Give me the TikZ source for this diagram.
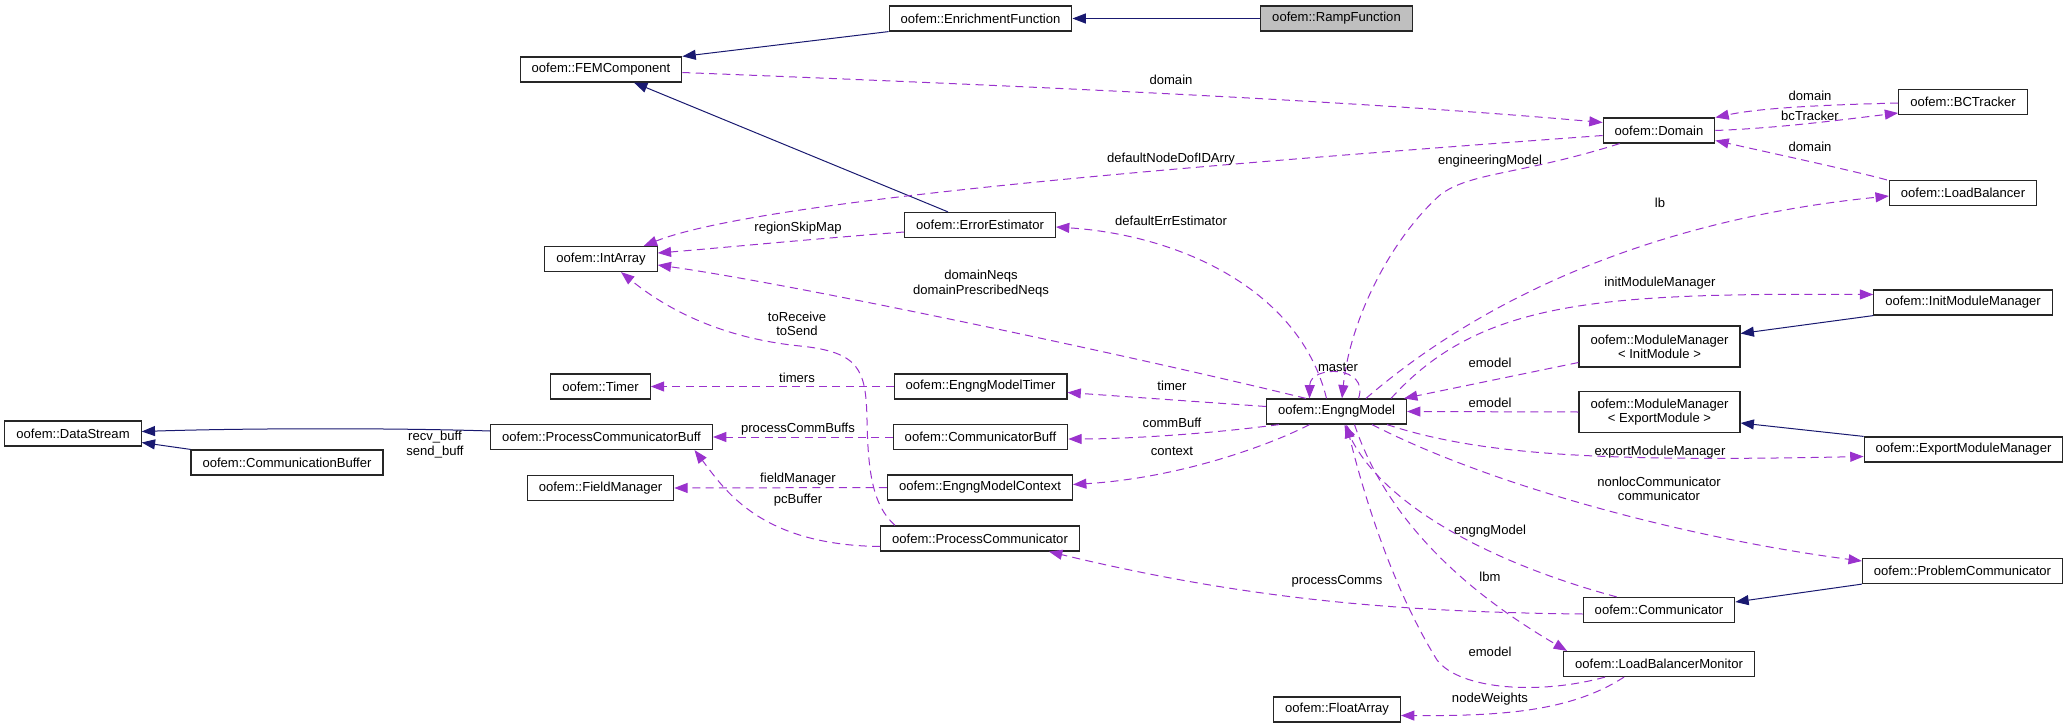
\documentclass[tikz,border=0pt]{standalone}
\usepackage{fontspec}
\setmainfont{Liberation Sans}
\usetikzlibrary{calc,arrows.meta}
\definecolor{darkorchid3}{HTML}{9A32CD}
\definecolor{midnightblue}{HTML}{191970}
\definecolor{grey75}{HTML}{BFBFBF}
\newcommand{\usecolor}{darkorchid3}
\newcommand{\inhcolor}{midnightblue}
\newcommand{\edgewidth}{0.75pt}
\newcommand{\boxfont}{\fontsize{9.8pt}{10.75pt}\selectfont}
\tikzset{
  cls/.style={draw=black!85, line width=0.9pt, fill=white, font=\boxfont, inner xsep=8.6pt, inner ysep=0pt, minimum height=18.75pt},
  two/.style={cls, align=center, minimum height=30.75pt},
  lbl/.style={font=\boxfont, inner sep=0pt, align=center},
  inh/.style={draw=\inhcolor, line width=\edgewidth, -{Triangle[length=10pt,width=7.5pt]}},
  usage/.style={draw=\usecolor, line width=\edgewidth, dash pattern=on 6pt off 4pt, -{Triangle[length=10pt,width=7.5pt]}}
}

\begin{document}
\begin{tikzpicture}[x=0.75pt,y=-0.75pt]
\useasboundingbox (0,0) rectangle (2068,728);
%classes
\node[cls] (1) at (1336.5,18.5) [fill=grey75] {oofem::RampFunction};
\node[cls] (2) at (980.5,18.5) {oofem::EnrichmentFunction};
\node[cls] (3) at (601,69.5) {oofem::FEMComponent};
\node[cls] (4) at (1659,130.5) {oofem::Domain};
\node[cls] (5) at (1963,102) {oofem::BCTracker};
\node[cls] (6) at (1963,193) {oofem::LoadBalancer};
\node[cls] (7) at (601,259) {oofem::IntArray};
\node[cls] (8) at (980,225) {oofem::ErrorEstimator};
\node[cls] (9) at (1963,302.5) {oofem::InitModuleManager};
\node[two] (10) at (1659.5,346.5) {oofem::ModuleManager\\< InitModule >};
\node[cls] (11) at (600.5,386.5) {oofem::Timer};
\node[cls] (12) at (980.5,386.5) {oofem::EngngModelTimer};
\node[cls] (13) at (1336.5,411.5) {oofem::EngngModel};
\node[cls] (14) at (73,433.5) {oofem::DataStream};
\node[cls] (15) at (601.5,437) {oofem::ProcessCommunicatorBuff};
\node[cls] (16) at (980.5,437) {oofem::CommunicatorBuff};
\node[two] (17) at (1659.5,412) {oofem::ModuleManager\\< ExportModule >};
\node[cls] (18) at (287,462.5) {oofem::CommunicationBuffer};
\node[cls] (19) at (600.5,488) {oofem::FieldManager};
\node[cls] (20) at (980,487.5) {oofem::EngngModelContext};
\node[cls] (21) at (1963.5,449.5) {oofem::ExportModuleManager};
\node[cls] (22) at (980,538.5) {oofem::ProcessCommunicator};
\node[cls] (23) at (1962.5,571) {oofem::ProblemCommunicator};
\node[cls] (24) at (1659,610) {oofem::Communicator};
\node[cls] (25) at (1659,664) {oofem::LoadBalancerMonitor};
\node[cls] (26) at (1337,709.5) {oofem::FloatArray};
%inheritance
\draw[inh] (1) -- (2);
\draw[inh] (2.south west) -- (3.north east);
\draw[inh] ($(8.north)+(-32,0)$) -- ($(3.south)+(33,0)$);
\draw[inh] ($(15.west)+(0,-6)$) .. controls (400,428) and (250,428) .. ($(14.east)+(0,-2)$);
\draw[inh] (18.north west) -- ($(14.east)+(0,9)$);
\draw[inh] (9.south west) -- ($(10.east)+(0,-13)$);
\draw[inh] (21.north west) -- ($(17.east)+(0,11)$);
\draw[inh] (23.south west) -- ($(24.east)+(0,-8)$);
%usage
\draw[usage] ($(3.east)+(0,3)$) .. controls (1000,85) and (1350,100) .. ($(4.west)+(0,-8)$);
\draw[usage] ($(5.west)+(0,1)$) .. controls (1820,105) and (1760,108) .. ($(4.east)+(0,-13)$);
\draw[usage] (4.east) .. controls (1780,128) and (1840,120) .. ($(5.west)+(0,11)$);
\draw[usage] ($(6.north west)+(-2,0)$) .. controls (1850,170) and (1780,155) .. ($(4.east)+(0,10)$);
\draw[usage] ($(4.west)+(0,5)$) .. controls (1200,165) and (760,200) .. ($(7.north east)+(-14,0)$);
\draw[usage] ($(4.south west)+(17,0)$) .. controls (1520,175) and (1470,172) .. (1440,195) .. controls (1390,240) and (1350,320) .. ($(13.north)+(5.5,0)$);
\draw[usage] ($(8.west)+(0,7)$) .. controls (800,240) and (720,248) .. ($(7.east)+(0,-6)$);
\draw[usage] ($(13.north)+(-10,0)$) .. controls (1300,290) and (1180,235) .. ($(8.east)+(0,2)$);
\draw[usage] ($(13.north)+(29.5,0)$) .. controls (1480,300) and (1650,220) .. ($(6.west)+(0,3)$);
\draw[usage] ($(13.north west)+(40,0)$) .. controls (1150,360) and (800,285) .. ($(7.east)+(0,6)$);
\draw[usage] ($(22.north west)+(15,0)$) .. controls (872,505) and (868,470) .. (867,420) .. controls (866,370) and (860,352) .. (800,346) .. controls (740,340) and (680,320) .. ($(7.south)+(20,0)$);
\draw[usage] (12.west) -- (11.east);
\draw[usage] ($(13.west)+(0,-5)$) -- ($(12.east)+(0,6)$);
\draw[usage] (16.west) -- (15.east);
\draw[usage] ($(13.south west)+(13,0)$) .. controls (1200,435) and (1120,439) .. ($(16.east)+(0,2)$);
\draw[usage] ($(13.south)+(-27,0)$) .. controls (1270,445) and (1180,478) .. ($(20.east)+(0,-3)$);
\draw[usage] (20.west) -- (19.east);
\draw[usage] ($(22.west)+(0,8)$) .. controls (760,545) and (725,490) .. ($(15.south)+(93,0)$);
\draw[usage] ($(24.west)+(0,4)$) .. controls (1400,612) and (1250,600) .. ($(22.south east)+(-31,0)$);
\draw[usage] ($(24.north west)+(34,0)$) .. controls (1480,560) and (1380,500) .. ($(13.south)+(8,0)$);
\draw[usage] ($(10.west)+(0,16)$) -- ($(13.north east)+(-3,0)$);
\draw[usage] (17.west) -- (13.east);
\draw[usage] ($(13.north east)+(-16,0)$) .. controls (1480,300) and (1600,293) .. ($(9.west)+(0,-8)$);
\draw[usage] ($(13.south east)+(-20,0)$) .. controls (1480,455) and (1600,462) .. ($(21.west)+(0,7)$);
\draw[usage] ($(13.south east)+(-35,0)$) .. controls (1500,490) and (1700,540) .. ($(23.west)+(0,-10)$);
\draw[usage] ($(13.north)+(22,0)$) .. controls (1370,365) and (1310,365) .. ($(13.north)+(-27,0)$);
\draw[usage] ($(25.south)+(-35,0)$) .. controls (1570,712) and (1500,716) .. ($(26.east)+(0,6)$);
\draw[usage] ($(13.south)+(18,0)$) .. controls (1390,530) and (1480,600) .. ($(25.north west)+(4,0)$);
\draw[usage] ($(25.south west)+(42,0)$) .. controls (1540,695) and (1460,690) .. (1437,660) .. controls (1400,600) and (1370,520) .. ($(13.south)+(10,0)$);
%labels
\node[lbl] (e1) at (1171,80) {domain};
\node[lbl] (e2) at (1810,96) {domain};
\node[lbl] (e3) at (1810,116) {bcTracker};
\node[lbl] (e4) at (1810,147) {domain};
\node[lbl] (e5) at (1171,159) {defaultNodeDofIDArry};
\node[lbl] (e6) at (1490,161) {engineeringModel};
\node[lbl] (e7) at (798,228) {regionSkipMap};
\node[lbl] (e8) at (1171,221) {defaultErrEstimator};
\node[lbl] (e9) at (1660,203) {lb};
\node[lbl] (e10) at (1660,283) {initModuleManager};
\node[lbl] (e11) at (981,283.5) {domainNeqs\\domainPrescribedNeqs};
\node[lbl] (e12) at (797,324) {toReceive\\toSend};
\node[lbl] (e13) at (1338,367) {master};
\node[lbl] (e14) at (1490,363) {emodel};
\node[lbl] (e15) at (1490,403) {emodel};
\node[lbl] (e16) at (797,378) {timers};
\node[lbl] (e17) at (1172,386) {timer};
\node[lbl] (e18) at (435,444.5) {recv\_buff\\send\_buff};
\node[lbl] (e19) at (798,429) {processCommBuffs};
\node[lbl] (e20) at (1172,423) {commBuff};
\node[lbl] (e21) at (1172,451) {context};
\node[lbl] (e22) at (1660,452) {exportModuleManager};
\node[lbl] (e23) at (798,479) {fieldManager};
\node[lbl] (e24) at (1659,488.5) {nonlocCommunicator\\communicator};
\node[lbl] (e25) at (798,500) {pcBuffer};
\node[lbl] (e26) at (1490,531) {engngModel};
\node[lbl] (e27) at (1490,577) {lbm};
\node[lbl] (e28) at (1337,581) {processComms};
\node[lbl] (e29) at (1490,652) {emodel};
\node[lbl] (e30) at (1490,699) {nodeWeights};
\end{tikzpicture}
\end{document}
